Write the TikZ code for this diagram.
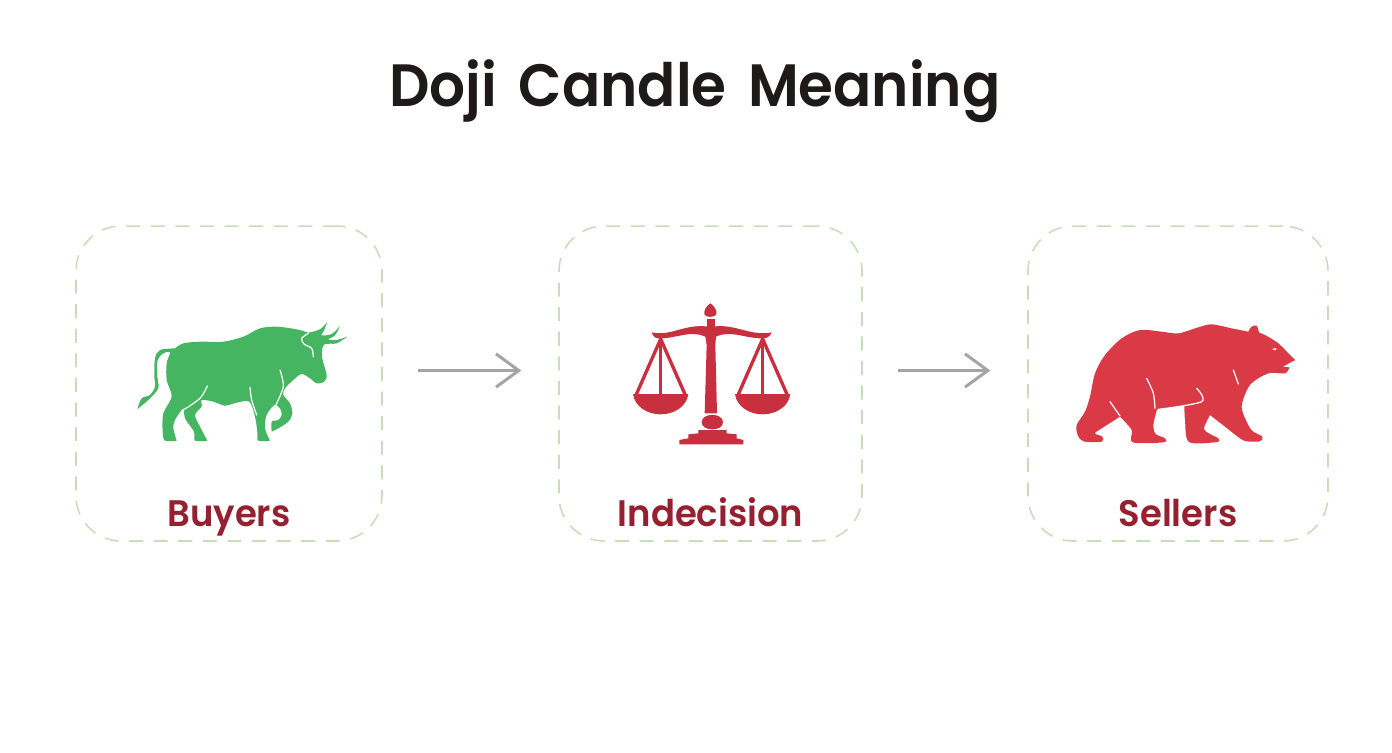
\documentclass[tikz,border=0pt]{standalone}
\usepackage{fontspec}
\usepackage{xcolor}
\usepackage{tikz}
\usetikzlibrary{arrows.meta, positioning}
\setmainfont{Poppins}[BoldFont=Poppins SemiBold, BoldFeatures={FakeStretch=0.96}]
\newfontfamily\titlefont{Poppins}[BoldFont=Poppins SemiBold, BoldFeatures={FakeStretch=0.945}, WordSpace=1.6]
\definecolor{bullgreen}{HTML}{45B562}
\definecolor{bearred}{HTML}{D93A46}
\definecolor{scalered}{HTML}{C9303F}
\definecolor{labelred}{HTML}{942030}
\definecolor{titleink}{HTML}{1F1A1A}
\definecolor{dashgreen}{HTML}{C8DDBB}
\definecolor{arrowgrey}{HTML}{A4A4A4}
\tikzset{
  cardbox/.style={draw=dashgreen, dashed, dash pattern=on 8pt off 6pt, line width=0.9pt, rounded corners=0.9cm, minimum height=6.3cm},
  cardlabel/.style={anchor=base, text=labelred, font=\bfseries\fontsize{21}{25}\selectfont},
  flowarrow/.style={draw=arrowgrey, line width=1.7pt, -{Straight Barb[length=13pt,width=19pt,line width=1.7pt]}},
  iconline/.style={white, line width=0.7pt, line cap=round},
  every plot/.style={smooth, tension=0.5}
}

\begin{document}
\begin{tikzpicture}[x=0.02cm, y=-0.02cm]
  \useasboundingbox (0,0) rectangle (1392,752);
  \node[anchor=base, text=titleink, font=\titlefont\bfseries\fontsize{34}{40}\selectfont] (title) at (695,106) {Doji Candle Meaning};

  % Cards with their labels
  \foreach \name/\cx/\cardw/\lab in {buyers/229/306/Buyers, indecision/710.5/303/Indecision, sellers/1178/300/Sellers} {
    \node[cardbox, minimum width=\cardw*0.02cm] (\name) at (\cx,383.5) {};
    \node[cardlabel] (\name label) at (\cx,526) {\lab};
  }

  % Arrows between the cards
  \draw[flowarrow, shorten <=20pt, shorten >=21pt] ([yshift=7.4pt]buyers.east) -- ([yshift=7.4pt]indecision.west);
  \draw[flowarrow, shorten <=20pt, shorten >=21pt] ([yshift=7.4pt]indecision.east) -- ([yshift=7.4pt]sellers.west);

  % Bull
  \begin{scope}[shift={(120,300)}, x=0.02cm/3, y=-0.02cm/3]
    \fill[bullgreen]
      plot coordinates {(165,145) (190,130) (240,125) (310,125) (370,110) (420,85) (470,80) (530,88) (565,98)}
      -- plot coordinates {(565,98) (600,88) (622,66)}
      -- plot coordinates {(622,66) (612,92) (605,106) (635,102) (660,78)}
      -- plot coordinates {(660,78) (645,106) (625,118) (650,120) (682,110)}
      -- plot coordinates {(682,110) (650,130) (612,134) (606,170) (620,225) (612,245) (590,250) (570,235) (545,222) (520,240) (495,265) (490,285) (510,310) (517,340) (505,365) (475,385) (455,395)}
      -- plot coordinates {(455,395) (455,365) (475,360) (485,345) (480,325) (463,315) (440,345) (435,385) (450,422)}
      -- plot coordinates {(450,422) (415,422) (412,395) (405,350) (388,305) (350,308) (315,317) (280,305) (245,300) (245,320) (225,345) (240,380) (262,422)}
      -- plot coordinates {(262,422) (225,422) (222,395) (195,355) (190,325) (165,360) (160,385) (170,422)}
      -- plot coordinates {(170,422) (135,422) (128,395) (130,340) (155,290) (140,240) (140,190) (150,157) (130,160) (113,180) (112,230) (115,265) (85,300) (52,327)}
      -- plot coordinates {(52,327) (65,295) (90,285) (105,260) (103,230) (105,175) (120,150) (165,145)}
      -- cycle;
    \draw[iconline] plot coordinates {(262,258) (240,295) (190,330)};
    \draw[iconline] plot coordinates {(480,210) (490,260) (465,320)};
    \draw[iconline] plot coordinates {(390,262) (395,300) (410,345)};
    \draw[iconline] plot coordinates {(565,100) (545,115) (552,132) (575,145) (580,170)};
  \end{scope}

  % Scales
  \begin{scope}[shift={(620,295)}, x=0.02cm/3, y=-0.02cm/3]
    \fill[scalered] (271,25) .. controls (283,32) and (292,48) .. (289,58) .. controls (286,68) and (256,68) .. (253,58) .. controls (250,48) and (259,32) .. (271,25) -- cycle;
    \fill[scalered] (260,72) rectangle (284,96);
    \fill[scalered] (95,112) .. controls (150,125) and (190,88) .. (258,94) -- (286,94)
      .. controls (350,88) and (395,125) .. (455,112) .. controls (450,128) and (435,132) .. (420,130)
      .. controls (370,128) and (330,105) .. (288,125) -- (286,150) -- (291,355) -- (254,355) -- (260,150) -- (256,125)
      .. controls (215,105) and (175,128) .. (125,130) .. controls (110,132) and (100,128) .. (95,112) -- cycle;
    \foreach \px in {122,428} {
      \draw[scalered, line width=1.9pt, line join=round] (\px-73,298) -- (\px,132) -- (\px+73,298);
      \draw[scalered, line width=1.9pt] (\px,132) -- (\px,298);
      \fill[scalered] (\px-83,297) -- (\px+83,297) .. controls (\px+78,335) and (\px+40,358) .. (\px,358) .. controls (\px-40,358) and (\px-78,335) .. (\px-83,297) -- cycle;
    }
    \fill[scalered] (245,382) .. controls (245,352) and (309,352) .. (309,382) .. controls (309,410) and (245,410) .. (245,382) -- cycle;
    \fill[scalered] (178,448) -- (178,435) -- (205,430) -- (205,418) -- (235,415) -- (235,405) -- (320,405) -- (320,415) -- (350,418) -- (350,430) -- (370,435) -- (370,448) -- cycle;
  \end{scope}

  % Bear
  \begin{scope}[shift={(1065,310)}, x=0.02cm/3, y=-0.02cm/3]
    \fill[bearred]
      plot coordinates {(691,150) (680,140) (640,100) (600,75) (582,68)}
      -- plot coordinates {(582,68) (575,47) (560,50) (550,65)}
      -- plot coordinates {(550,65) (500,55) (440,43) (400,52) (340,70) (290,65) (225,60) (170,85) (120,135) (90,190) (75,260) (60,305) (35,345) (38,375) (55,394) (110,395) (112,380) (90,370) (110,355) (165,320)}
      -- plot coordinates {(165,320) (200,360) (203,397) (295,397) (300,385) (272,372) (265,345) (276,298)}
      -- plot coordinates {(276,298) (358,287)}
      -- plot coordinates {(358,287) (360,330) (372,396) (455,396) (460,385) (435,372) (417,355) (435,315)}
      -- plot coordinates {(435,315) (480,350) (525,385) (545,394) (585,394) (592,380) (565,365) (550,345) (530,290) (555,225) (610,190) (660,190) (672,172) (655,170) (691,150)}
      -- cycle;
    \fill[white] (620,117) -- (634,114) -- (632,121) -- cycle;
    \draw[iconline] plot coordinates {(245,205) (265,250) (270,295)};
    \draw[iconline] plot coordinates {(135,275) (165,318)};
    \draw[iconline] plot coordinates {(395,235) (410,275) (280,298)};
    \draw[iconline] plot coordinates {(505,180) (520,222)};
  \end{scope}
\end{tikzpicture}
\end{document}
